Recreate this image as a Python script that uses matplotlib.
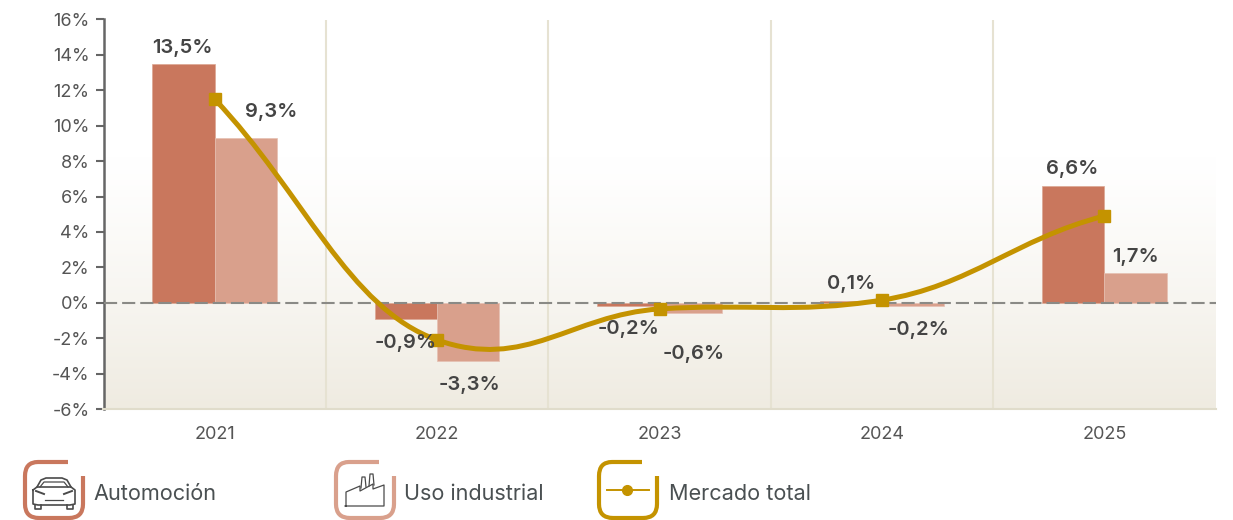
import numpy as np
import matplotlib
matplotlib.use("Agg")
import matplotlib.pyplot as plt
from matplotlib.path import Path
from matplotlib.patches import PathPatch

years = ["2021", "2022", "2023", "2024", "2025"]
automocion = [13.5, -0.9, -0.2, 0.1, 6.6]
uso_industrial = [9.3, -3.3, -0.6, -0.2, 1.7]
mercado_total = [11.5, -2.1, -0.35, 0.15, 4.9]
labels_auto = ["13,5%", "-0,9%", "-0,2%", "0,1%", "6,6%"]
labels_ind = ["9,3%", "-3,3%", "-0,6%", "-0,2%", "1,7%"]
yticks = [-6, -4, -2, 0, 2, 4, 6, 8, 10, 12, 14, 16]

RED = "#c9775d"
PINK = "#d9a08c"
GOLD = "#c49300"
TEXT = "#444444"

W, H = 1233, 520
fig = plt.figure(figsize=(W / 100, H / 100), dpi=100, facecolor="white")
ax = fig.add_axes([103.5 / W, 1 - 409 / H, (1215.5 - 103.5) / W, (409 - 19.5) / H])

x = np.arange(len(years))
bw = 0.28
ax.set_xlim(-0.5, 4.5)
ax.set_ylim(-6, 16)

# background fades from white to beige towards the bottom
fade = np.clip(np.linspace(-0.55, 1, 256), 0, 1)[:, None, None] ** 1.25
bg = (1 - fade) * np.array([1, 1, 1]) + fade * np.array([0.937, 0.922, 0.882])
ax.imshow(bg, extent=[-0.5, 4.5, -6, 16], origin="upper", aspect="auto", zorder=0)

for b in x[:-1] + 0.5:
    ax.axvline(b, color="#e6e2d2", lw=1.5, zorder=1)

ax.bar(x - bw / 2, automocion, bw, color=RED, zorder=2, edgecolor="#dca793", lw=0.5)
ax.bar(x + bw / 2, uso_industrial, bw, color=PINK, zorder=2, edgecolor="#e6c0b2", lw=0.5)
ax.axhline(0, color="#8a8a86", lw=1.5, dashes=(6.3, 2.4), zorder=3)

# smoothed line, bezier handles taken from neighbouring points
hx = 0.4
hy = 0.3
my = np.array(mercado_total, dtype=float)
verts = [(x[0], my[0])]
codes = [Path.MOVETO]
for i in range(len(x) - 1):
    m0 = (my[i + 1] - my[i - 1]) / 2 if i > 0 else (my[1] - my[0]) * 1.3
    m1 = (my[i + 2] - my[i]) / 2 if i < len(x) - 2 else (my[-1] - my[-2]) * 0.9
    verts += [(x[i] + hx, my[i] + m0 * hy), (x[i + 1] - hx, my[i + 1] - m1 * hy), (x[i + 1], my[i + 1])]
    codes += [Path.CURVE4] * 3
ax.add_patch(PathPatch(Path(verts, codes), fc="none", ec=GOLD, lw=3.6, zorder=4, capstyle="round"))
ax.plot(x, my, ls="none", marker="s", ms=8, color=GOLD, zorder=5)

# label offsets in pixels from bar end
off_auto = [(-1, 16), (0, -24), (0, -23), (0, 17), (-1, 17)]
off_ind = [(25, 26), (1, -24), (3, -41), (6, -24), (0, 16)]
for i in x:
    ax.annotate(labels_auto[i], (i - bw / 2, automocion[i]), xytext=(off_auto[i][0] * 0.72, off_auto[i][1] * 0.72),
                textcoords="offset points", ha="center", va="center", fontsize=14.5,
                fontfamily="Inter", fontweight="semibold", color=TEXT, zorder=6)
    ax.annotate(labels_ind[i], (i + bw / 2, uso_industrial[i]), xytext=(off_ind[i][0] * 0.72, off_ind[i][1] * 0.72),
                textcoords="offset points", ha="center", va="center", fontsize=14.5,
                fontfamily="Inter", fontweight="semibold", color=TEXT, zorder=6)

ax.set_xticks(x, years)
ax.set_yticks(yticks, [f"{v}%" for v in yticks])
ax.tick_params(axis="x", length=0, pad=12, labelsize=13, labelcolor="#555555")
ax.tick_params(axis="y", length=6, width=1.5, color="#666666", pad=4, labelsize=13, labelcolor="#555555")
for lab in ax.get_xticklabels() + ax.get_yticklabels():
    lab.set_fontfamily("Inter")
for s in ["top", "right"]:
    ax.spines[s].set_visible(False)
ax.spines["left"].set_color("#666666")
ax.spines["left"].set_linewidth(1.8)
ax.spines["bottom"].set_color("#e0dccb")
ax.spines["bottom"].set_linewidth(1.5)

# legend, drawn in pixel coordinates
lg = fig.add_axes([0, 0, 1, 1], facecolor="none")
lg.set_xlim(0, W)
lg.set_ylim(H, 0)
lg.axis("off")


def frame(x0, color):
    c = [Path.MOVETO, Path.LINETO, Path.CURVE3, Path.CURVE3, Path.LINETO, Path.CURVE3, Path.CURVE3, Path.LINETO,
         Path.CURVE3, Path.CURVE3, Path.LINETO]
    v = [(x0 + 44, 462), (x0 + 14, 462), (x0 + 1, 462), (x0 + 1, 476), (x0 + 1, 504), (x0 + 1, 518), (x0 + 15, 518),
         (x0 + 45, 518), (x0 + 59, 518), (x0 + 59, 504), (x0 + 59, 476)]
    lg.add_patch(PathPatch(Path(v, c), fc="none", ec=color, lw=3, capstyle="butt"))


frame(24, RED)
frame(335, PINK)
frame(598, GOLD)

# car icon
ic = "#4a4a4a"
lg.plot([33, 33, 38, 43, 65, 70, 75, 75, 71, 37, 33], [490, 504, 505, 505, 505, 505, 504, 490, 487, 487, 490], color=ic, lw=1.2)
lg.plot([37, 41, 46, 62, 67, 71], [487, 480, 478, 478, 480, 487], color=ic, lw=1.2)
lg.plot([40, 44, 64, 68], [487, 482, 482, 487], color=ic, lw=0.9)
lg.plot([36, 44], [491, 494], color=ic, lw=1.4)
lg.plot([72, 64], [491, 494], color=ic, lw=1.4)
lg.plot([45, 63], [500, 500], color=ic, lw=0.9)
lg.plot([35, 35, 41, 41], [505, 509, 509, 505], color=ic, lw=1.2)
lg.plot([67, 67, 73, 73], [505, 509, 509, 505], color=ic, lw=1.2)

# factory icon
lg.plot([346, 346, 360, 360, 373, 373, 384, 384, 345], [506, 492, 486, 491, 484, 489, 485, 506, 506], color=ic, lw=0.9)
lg.plot([361, 362, 365, 366], [488, 477, 477, 487], color=ic, lw=0.9)
lg.plot([369, 370, 373, 374], [486, 474, 474, 485], color=ic, lw=0.9)

# mercado total icon
lg.plot([607, 649], [490, 490], color=GOLD, lw=1.4)
lg.plot([627], [490], marker="o", ms=7, color=GOLD)

for tx, s in [(93, "Automoción"), (404, "Uso industrial"), (669, "Mercado total")]:
    lg.text(tx, 494.5, s, fontsize=15.6, fontfamily="Inter", color="#4a5052", va="center", ha="left")

fig.savefig("out.png", dpi=100)
